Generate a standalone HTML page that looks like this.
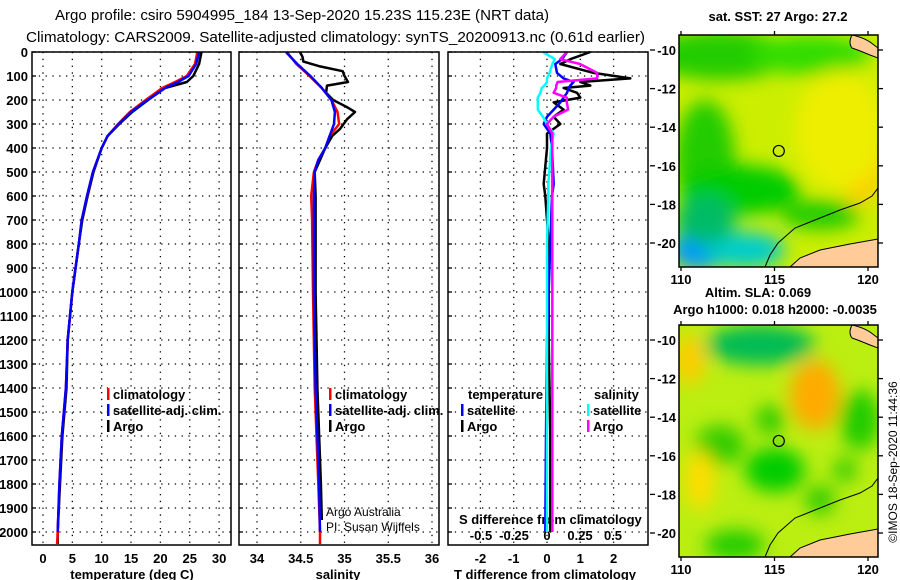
<!DOCTYPE html>
<html><head><meta charset="utf-8"><style>
html,body{margin:0;padding:0;background:#fff;}
svg{display:block;font-family:"Liberation Sans",sans-serif;}
.b{font-weight:bold;}
</style></head><body>
<svg id="c" width="900" height="580" viewBox="0 0 900 580" xmlns="http://www.w3.org/2000/svg">
<defs>
<filter id="bl" x="-50%" y="-50%" width="200%" height="200%"><feGaussianBlur stdDeviation="9"/></filter>
<clipPath id="m1"><rect x="679" y="35" width="199" height="232"/></clipPath>
<clipPath id="m2"><rect x="679" y="325" width="199" height="232"/></clipPath>
</defs>
<text x="55" y="20" font-size="15" textLength="494" lengthAdjust="spacingAndGlyphs">Argo profile: csiro 5904995_184 13-Sep-2020 15.23S 115.23E (NRT data)</text>
<text x="26" y="42" font-size="15" textLength="619" lengthAdjust="spacingAndGlyphs">Climatology: CARS2009. Satellite-adjusted climatology: synTS_20200913.nc (0.61d earlier)</text>
<g id="grids"></g>
<g id="series"></g>
<g id="frames"></g>
<g id="maps"></g>
</svg>
<script>
// ---------- data ----------
const depthTicks=[0,100,200,300,400,500,600,700,800,900,1000,1100,1200,1300,1400,1500,1600,1700,1800,1900,2000];
const tempTicks=[0,5,10,15,20,25,30];
const salTicks=[34,34.5,35,35.5,36];
const tdiffTicks=[-2,-1,0,1,2];
const sdiffTicks=[-0.5,-0.25,0,0.25,0.5];
const sdiffTickLabels=["-0.5","-0.25","0","0.25","0.5"];

const tDepth=[0,50,100,125,150,200,250,300,350,400,500,600,700,800,1000,1200,1400,1600,1800,2000,2050];
const climT=[26.3,25.9,24.5,22.5,20.3,17.5,14.8,12.8,11,10,8.5,7.5,6.6,6.1,5,4.2,3.9,3.2,2.8,2.5,2.4];
const satT=[26.6,26.1,24.8,23,20.8,17.8,15,12.9,11,10,8.5,7.5,6.6,6.1,5,4.2,3.9,3.2,2.8,2.5,2.5];
const argoT=[27,26.6,25.6,24.5,20.8,17.9,15.2,13,11,10,8.6,7.6,6.7,6.1,5,4.2,4.0,3.3,2.9,2.5,2.5];

const sDepth=[0,50,100,150,200,250,300,350,400,450,500,600,700,1000,1400,1800,2000,2050];
const climS=[34.34,34.45,34.6,34.74,34.85,34.92,34.94,34.83,34.78,34.7,34.65,34.62,34.63,34.64,34.66,34.7,34.72,34.72];
const satS=[34.33,34.46,34.61,34.74,34.85,34.89,34.88,34.83,34.78,34.7,34.66,34.65,34.65,34.65,34.67,34.71,34.72,34.72];
const aDepth=[0,20,40,60,80,100,125,140,170,200,230,250,280,320,350,400,500,600,1000,1400,1800,1950];
const argoS=[34.49,34.52,34.53,34.72,34.98,35.0,35.04,34.8,34.79,34.87,35.03,35.12,35.03,34.95,34.86,34.78,34.66,34.67,34.67,34.69,34.73,34.74];

const dDepth=[0,30,50,87,110,125,140,150,170,190,210,240,270,300,340,400,550,600,800,1200,1600,2000];
const argoTd=[1.3,0.7,0.4,1.4,2.5,1.0,1.3,0.5,0.9,1.0,0.2,0.5,0.2,0.4,0.0,0.0,-0.1,-0.05,0.05,0.05,0.1,0.1];
const satTd=[0.6,0.45,0.25,0.3,0.5,0.8,0.7,0.65,0.6,0.5,0.4,0.2,0.0,-0.1,0.1,0.15,0.2,0.15,0.1,0.0,-0.03,-0.05];
const argoSd=[0.15,0.1,0.25,0.38,0.38,0.08,0.07,0.07,0.05,0.15,0.15,0.16,0.05,0.0,0.04,0.04,0.04,0.04,0.04,0.04,0.04,0.04];
const satSd=[-0.03,0.06,0.04,0.02,0.0,0.0,-0.02,-0.04,-0.05,-0.07,-0.07,-0.07,-0.03,0.0,0.05,0.03,0.01,0.01,0.0,0.0,0.0,0.0];

// ---------- scales ----------
const yD=d=>52+d*0.24;
const xT=v=>43+v*5.87;
const xS=v=>257+(v-34)*87.5;
const xTd=v=>547+v*33.3;
const xSd=v=>547+v*132;
const NS="http://www.w3.org/2000/svg";
function mk(tag,attrs,parent,txt){const e=document.createElementNS(NS,tag);for(const k in attrs)e.setAttribute(k,attrs[k]);if(txt!==undefined)e.textContent=txt;parent.appendChild(e);return e;}
const G=document.getElementById('grids'),S=document.getElementById('series'),F=document.getElementById('frames'),M=document.getElementById('maps');
const panels=[{x0:32,x1:231,ticks:tempTicks,sc:xT},{x0:239,x1:439,ticks:salTicks,sc:xS},{x0:448,x1:648,ticks:tdiffTicks,sc:xTd}];
panels.forEach((p,i)=>{
  depthTicks.forEach(d=>{const l=mk('line',{x1:p.x0,x2:p.x1,y1:yD(d),y2:yD(d),stroke:'#000','stroke-width':1.3,'stroke-dasharray':'1.3 5.5'},G);
    
    const t=mk('line',{x1:p.x0,x2:p.x0+4,y1:yD(d),y2:yD(d),stroke:'#000','stroke-width':1.3},G);
    });
  p.ticks.forEach(v=>{const l=mk('line',{x1:p.sc(v),x2:p.sc(v),y1:52,y2:545,stroke:'#000','stroke-width':1.3,'stroke-dasharray':'1.3 5.5'},G);
    
    const t=mk('text',{x:p.sc(v),y:563,'font-size':13,'text-anchor':'middle',class:'b'},G,String(v));
    });
  const r=mk('rect',{x:p.x0,y:52,width:p.x1-p.x0,height:493,fill:'none',stroke:'#000','stroke-width':1.5},F);
  
});
depthTicks.forEach(d=>{const t=mk('text',{x:28,y:yD(d)+5,'font-size':13,'text-anchor':'end',class:'b'},G,String(d));
  });
[['temperature (deg C)',132],['salinity',338],['T difference from climatology',545]].forEach(a=>{
  const t=mk('text',{x:a[1],y:579,'font-size':13,'text-anchor':'middle',class:'b'},G,a[0]);
  });
function line(vals,deps,sc,col,w,name){
  const pts=vals.map((v,i)=>sc(v).toFixed(1)+','+yD(deps[i]).toFixed(1)).join(' ');
  const l=mk('polyline',{points:pts,fill:'none',stroke:col,'stroke-width':w,'stroke-linejoin':'round'},S);
  }
line(argoT,tDepth,xT,'#000',2.5,'argo-temperature-line');
line(climT,tDepth,xT,'#f00',2.5,'climatology-temperature-line');
line(satT,tDepth.slice(0,20),xT,'#00f',2.5,'satellite-temperature-line');
line(argoS,aDepth,xS,'#000',2.5,'argo-salinity-line');
line(climS,sDepth,xS,'#f00',2.5,'climatology-salinity-line');
line(satS,sDepth.slice(0,17),xS,'#00f',2.5,'satellite-salinity-line');
line(argoTd,dDepth,xTd,'#000',2.5,'argo-temp-diff-line');
line(satTd,dDepth,xTd,'#00f',2.5,'satellite-temp-diff-line');
line(satSd,dDepth,xSd,'#0ff',2.5,'satellite-sal-diff-line');
line(argoSd,dDepth,xSd,'#f0f',2.5,'argo-sal-diff-line');
sdiffTicks.forEach((v,i)=>{const t=mk('text',{x:xSd(v),y:540,'font-size':13,'text-anchor':'middle',class:'b'},G,sdiffTickLabels[i]);
  });
const st=mk('text',{x:459,y:524,'font-size':13,class:'b'},G,'S difference from climatology');

function leg(x,y,col,txt,name){const r=mk('rect',{x:x,y:y-11,width:2.5,height:12,fill:col},S);
  
  const t=mk('text',{x:x+6,y:y,'font-size':13,class:'b'},S,txt);
  }
leg(107,399,'#f00','climatology','legend-climatology');leg(107,415,'#00f','satellite-adj. clim.','legend-satellite-adj');leg(107,431,'#000','Argo','legend-argo');
leg(329,399,'#f00','climatology','legend-climatology-2');leg(329,415,'#00f','satellite-adj. clim.','legend-satellite-adj-2');leg(329,431,'#000','Argo','legend-argo-2');
leg(461,415,'#00f','satellite','legend-temp-satellite');leg(461,431,'#000','Argo','legend-temp-argo');
leg(587,415,'#0ff','satellite','legend-sal-satellite');leg(587,431,'#f0f','Argo','legend-sal-argo');
[['temperature',468,399],['salinity',594,399]].forEach(a=>{const t=mk('text',{x:a[1],y:a[2],'font-size':13,class:'b'},S,a[0]);
  });
[['Argo Australia',326,516],['PI: Susan Wijffels',326,531]].forEach(a=>{const t=mk('text',{x:a[1],y:a[2],'font-size':12},S,a[0]);
  });

// ---------- maps ----------
const latTicks=[-10,-12,-14,-16,-18,-20];
const lonTicks=[110,115,120];
const argoLon=115.23, argoLat=-15.23;
const lonX=v=>681+(v-110)*18.7;
const blobs1=[[720,55,'#22cc00',70,25],[810,55,'#33dd00',60,20],[860,150,'#ffcc00',25,55],[840,130,'#eeee00',45,60],[705,160,'#22cc00',30,60],[740,190,'#00cc00',60,25],[700,250,'#0099ff',30,20],[745,250,'#00cccc',40,18],[705,220,'#00bb66',30,25],[820,215,'#22cc00',40,15]];
const blobs2=[[760,345,'#00bb55',55,20],[690,360,'#ffcc00',15,25],[815,395,'#ffaa00',25,35],[860,420,'#22cc00',20,30],[720,445,'#33cc00',25,20],[770,420,'#33cc00',15,15],[775,470,'#00cc00',30,22],[700,480,'#ffdd00',15,30],[845,470,'#33cc00',12,12],[820,500,'#33cc00',15,15],[735,545,'#22cc00',30,15]];
function map(idx,top,latY,clip,base,blobs){
  const g=mk('g',{'clip-path':'url(#'+clip+')'},M);
  
  mk('rect',{x:679,y:top,width:199,height:232,fill:base},g);
  const bg=mk('g',{filter:'url(#bl)'},g);
  blobs.forEach(b=>mk('ellipse',{cx:b[0],cy:b[1],rx:b[3],ry:b[4],fill:b[2]},bg));
  const o=top-35;
  mk('path',{d:`M790 ${267+o} L800 ${258+o} L820 ${250+o} L850 ${244+o} L878 ${239+o} L878 ${267+o} Z`,fill:'#ffcc99',stroke:'#000','stroke-width':1},g);
  mk('path',{d:`M852 ${35+o} Q866 ${38+o} 874 ${45+o} L878 ${48+o} L878 ${58+o} L870 ${55+o} Q858 ${50+o} 852 ${48+o} Q848 ${43+o} 852 ${35+o} Z`,fill:'#ffcc99',stroke:'#000','stroke-width':1},g);
  mk('polyline',{points:`765,${267+o} 770,${255+o} 778,${243+o} 795,${228+o} 815,${220+o} 840,${210+o} 860,${203+o} 872,${196+o} 878,${188+o}`,fill:'none',stroke:'#000','stroke-width':1},g);
  const c=mk('circle',{cx:lonX(argoLon),cy:latY(argoLat),r:5.5,fill:'none',stroke:'#000','stroke-width':1.2},M);
  
  const fr=mk('rect',{x:679,y:top,width:199,height:232,fill:'none',stroke:'#000','stroke-width':1.5},M);
  
  latTicks.forEach(v=>{const t=mk('text',{x:676,y:latY(v)+5,'font-size':13,'text-anchor':'end',class:'b'},M,String(v));
    
    mk('line',{x1:878,x2:883,y1:latY(v),y2:latY(v),stroke:'#000','stroke-width':1.3},M);
    mk('line',{x1:650,x2:655,y1:latY(v),y2:latY(v),stroke:'#000','stroke-width':1.3},M);});
  lonTicks.forEach(v=>{const t=mk('text',{x:lonX(v),y:top+232+17,'font-size':13,'text-anchor':'middle',class:'b'},M,String(v));
    
    mk('line',{x1:lonX(v),x2:lonX(v),y1:top+232,y2:top+236,stroke:'#000','stroke-width':1.3},M);
    mk('line',{x1:lonX(v),x2:lonX(v),y1:top,y2:top-4,stroke:'#000','stroke-width':1.3},M);});
}
map(1,35,v=>50+(-10-v)*19.3,'m1','#ccee00',blobs1);
map(2,325,v=>340+(-10-v)*19.3,'m2','#bbee11',blobs2);
[['sat. SST: 27 Argo: 27.2',778,21],['Altim. SLA: 0.069',758,297],['Argo h1000: 0.018 h2000: -0.0035',775,314]].forEach(a=>{
  const t=mk('text',{x:a[1],y:a[2],'font-size':13,'text-anchor':'middle',class:'b'},M,a[0]);
  });
const im=mk('text',{x:0,y:0,'font-size':12,'text-anchor':'middle',transform:'translate(897,462) rotate(-90)'},M,'©IMOS 18-Sep-2020 11:44:36');

</script>
</body></html>
